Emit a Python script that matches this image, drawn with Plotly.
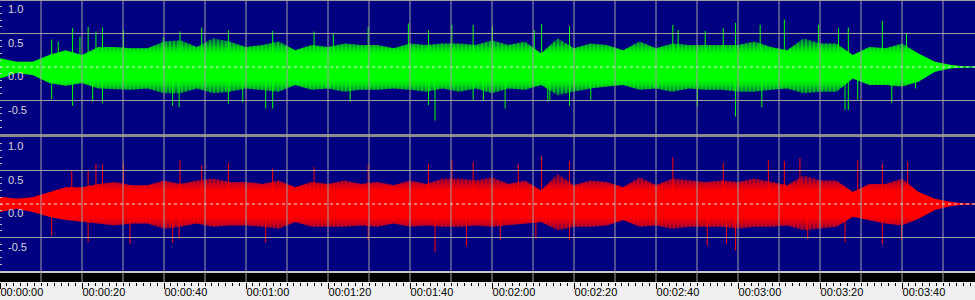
import plotly.graph_objects as go

# ---------------- data ----------------
BODY_T = [0, 4, 8, 12, 16, 20, 24, 28, 32, 36, 40, 44, 48, 52, 56, 60, 64, 68, 72, 76,
          80, 84, 88, 92, 96, 100, 104, 108, 112, 116, 120, 124, 128, 132, 136, 140, 144,
          148, 152, 156, 160, 164, 168, 172, 176, 180, 184, 188, 192, 196, 200, 204, 208,
          212, 216, 220, 224, 228, 232, 236, 237.8]

LEFT_UP = [0.13, 0.08, 0.08, 0.18, 0.25, 0.18, 0.30, 0.30, 0.28, 0.28, 0.38, 0.40, 0.30, 0.43,
           0.38, 0.30, 0.33, 0.38, 0.25, 0.33, 0.30, 0.35, 0.33, 0.33, 0.28, 0.35, 0.33, 0.35,
           0.35, 0.33, 0.40, 0.33, 0.38, 0.20, 0.43, 0.28, 0.35, 0.33, 0.25, 0.38, 0.28, 0.35,
           0.33, 0.33, 0.33, 0.33, 0.38, 0.30, 0.25, 0.43, 0.35, 0.35, 0.18, 0.30, 0.28, 0.35,
           0.20, 0.08, 0.03, 0.005, 0.005]
LEFT_LO = [-0.17, -0.09, -0.12, -0.24, -0.28, -0.24, -0.32, -0.33, -0.34, -0.32, -0.39, -0.39,
           -0.32, -0.39, -0.37, -0.32, -0.34, -0.37, -0.27, -0.34, -0.32, -0.37, -0.34, -0.34,
           -0.32, -0.34, -0.37, -0.32, -0.37, -0.32, -0.39, -0.32, -0.34, -0.27, -0.42, -0.37,
           -0.32, -0.29, -0.27, -0.34, -0.32, -0.37, -0.32, -0.34, -0.34, -0.37, -0.37, -0.34,
           -0.32, -0.39, -0.37, -0.37, -0.17, -0.27, -0.27, -0.29, -0.22, -0.07, -0.02, -0.005,
           -0.005]

RIGHT_UP = [0.11, 0.08, 0.10, 0.18, 0.25, 0.25, 0.30, 0.33, 0.28, 0.28, 0.35, 0.30, 0.35, 0.38,
            0.33, 0.33, 0.30, 0.35, 0.25, 0.33, 0.30, 0.35, 0.30, 0.33, 0.28, 0.35, 0.30, 0.38,
            0.38, 0.35, 0.40, 0.30, 0.35, 0.20, 0.45, 0.28, 0.35, 0.33, 0.25, 0.40, 0.28, 0.38,
            0.35, 0.33, 0.35, 0.33, 0.38, 0.33, 0.28, 0.43, 0.35, 0.35, 0.18, 0.30, 0.30, 0.38,
            0.18, 0.08, 0.03, 0.005, 0.005]
RIGHT_LO = [-0.12, -0.07, -0.12, -0.19, -0.24, -0.27, -0.29, -0.32, -0.29, -0.29, -0.37, -0.34,
            -0.29, -0.34, -0.32, -0.32, -0.34, -0.37, -0.27, -0.34, -0.34, -0.34, -0.32, -0.34,
            -0.29, -0.34, -0.32, -0.34, -0.34, -0.32, -0.34, -0.32, -0.29, -0.27, -0.39, -0.34,
            -0.34, -0.32, -0.24, -0.34, -0.32, -0.37, -0.34, -0.34, -0.34, -0.37, -0.34, -0.34,
            -0.32, -0.39, -0.37, -0.34, -0.19, -0.24, -0.29, -0.32, -0.22, -0.09, -0.03, -0.005,
            -0.005]

# isolated peaks (time in s, amplitude)
LEFT_PEAK_T = [12.6, 14.2, 17.7, 19.5, 21.5, 23.4, 25.0, 30.1, 39.8, 43.9, 49.2, 55.7, 66.5,
               76.6, 81.3, 89.8, 99.6, 104.5, 110.2, 115.4, 120.1, 130.3, 132.1, 138.9, 164.1,
               165.4, 172.0, 176.4, 179.4, 185.4, 191.3, 199.6, 204.5, 206.9, 215.2, 221.1,
               12.6, 17.7, 22.6, 25.0, 42.1, 43.7, 55.7, 59.2, 64.8, 66.5, 85.4, 104.5, 106.1,
               115.4, 117.9, 123.2, 133.6, 134.1, 138.9, 144.1, 170.1, 179.4, 185.8, 206.1,
               206.9, 209.2, 217.5, 223.3]
LEFT_PEAK_A = [0.41, 0.38, 0.58, 0.45, 0.60, 0.53, 0.59, 0.55, 0.45, 0.53, 0.59, 0.55, 0.54,
               0.53, 0.50, 0.60, 0.65, 0.55, 0.63, 0.63, 0.61, 0.55, 0.64, 0.61, 0.63, 0.55,
               0.54, 0.58, 0.66, 0.63, 0.71, 0.63, 0.58, 0.59, 0.69, 0.50,
               -0.48, -0.58, -0.52, -0.54, -0.58, -0.60, -0.55, -0.53, -0.62, -0.62, -0.52,
               -0.57, -0.80, -0.49, -0.50, -0.62, -0.52, -0.49, -0.58, -0.49, -0.59, -0.74,
               -0.60, -0.64, -0.64, -0.49, -0.54, -0.32]

RIGHT_PEAK_T = [17.5, 21.5, 23.4, 25.0, 30.1, 43.9, 49.2, 55.7, 66.5, 76.6, 89.8, 104.5, 110.2,
                115.4, 126.4, 132.1, 138.9, 164.1, 176.4, 187.4, 191.3, 195.1, 209.2, 215.2,
                221.4,
                12.6, 21.5, 31.7, 42.1, 43.7, 64.8, 89.8, 106.1, 113.8, 122.0, 130.7, 138.9,
                172.5, 177.2, 179.4, 197.0, 206.1, 215.2, 219.9]
RIGHT_PEAK_A = [0.50, 0.50, 0.60, 0.59, 0.61, 0.65, 0.58, 0.61, 0.53, 0.55, 0.58, 0.60, 0.65,
                0.63, 0.59, 0.71, 0.64, 0.70, 0.61, 0.65, 0.64, 0.69, 0.65, 0.60, 0.63,
                -0.47, -0.57, -0.60, -0.58, -0.52, -0.58, -0.55, -0.72, -0.63, -0.54, -0.52,
                -0.54, -0.62, -0.59, -0.69, -0.52, -0.57, -0.60, -0.53]

TAIL_T = [226, 237.8]   # near-silent end of the track

TICK_SEC = [0, 20, 40, 60, 80, 100, 120, 140, 160, 180, 200, 220]
TICK_LABELS = ["00:00:00", "00:00:20", "00:00:40", "00:01:00", "00:01:20", "00:01:40",
               "00:02:00", "00:02:20", "00:02:40", "00:03:00", "00:03:20", "00:03:40"]
GRID_SEC = [10, 20, 30, 40, 50, 60, 70, 80, 90, 100, 110, 120, 130, 140, 150, 160, 170,
            180, 190, 200, 210, 220, 230]
AMP_LABELS = ["1.0", "0.5", "0.0", "-0.5"]
AMP_LABEL_VALS = [1.0, 0.5, 0.0, -0.5]
AMP_GRID = [0.5, -0.5]
T_END = 237.8

# ---------------- styling ----------------
NAVY = "#000080"
GRIDC = "#a0a0a0"
FONT = "Liberation Sans"
H = 300.0


def py(px):  # pixel row -> paper fraction
    return 1 - px / H


TOP_DOM = [py(134), py(0)]
BOT_DOM = [py(271), py(137)]
RULER_DOM = [py(282), py(273)]

fig = go.Figure()


def rgba(rgb, a):
    return "rgba(%d,%d,%d,%s)" % (rgb[0], rgb[1], rgb[2], a)


def add_channel(up, lo, pk_t, pk_a, rgb, xa, ya):
    color = rgba(rgb, 1)
    xs = list(BODY_T) + list(reversed(BODY_T))
    ys = list(up) + list(reversed(lo))
    # sparse outer fringe of the waveform: vertical hatching
    fig.add_trace(go.Scatter(x=xs, y=ys, mode="lines", fill="toself",
                             fillcolor="rgba(0,0,0,0)",
                             fillpattern=dict(shape="|", fgcolor=color,
                                              bgcolor="rgba(0,0,0,0)", size=4, solidity=0.55),
                             line=dict(width=0), xaxis=xa, yaxis=ya,
                             hoverinfo="skip", showlegend=False))
    # dense core: solid in the middle, fading to the fringe
    fig.add_trace(go.Scatter(x=xs, y=ys, mode="lines", fill="toself",
                             fillgradient=dict(type="vertical", start=-0.46, stop=0.46,
                                               colorscale=[[0.0, rgba(rgb, 0)],
                                                           [0.22, rgba(rgb, 0.85)],
                                                           [0.3, rgba(rgb, 1)],
                                                           [0.7, rgba(rgb, 1)],
                                                           [0.78, rgba(rgb, 0.85)],
                                                           [1.0, rgba(rgb, 0)]]),
                             line=dict(width=0), xaxis=xa, yaxis=ya,
                             hoverinfo="skip", showlegend=False))
    sx, sy = [], []
    for t, a in zip(pk_t, pk_a):
        sx += [t, t, None]
        sy += [0, a, None]
    fig.add_trace(go.Scatter(x=sx, y=sy, mode="lines", line=dict(color=color, width=1),
                             xaxis=xa, yaxis=ya, hoverinfo="skip", showlegend=False))
    fig.add_trace(go.Scatter(x=TAIL_T, y=[0, 0], mode="lines", line=dict(color=color, width=1),
                             xaxis=xa, yaxis=ya, hoverinfo="skip", showlegend=False))


add_channel(LEFT_UP, LEFT_LO, LEFT_PEAK_T, LEFT_PEAK_A, (0, 255, 0), "x", "y")
add_channel(RIGHT_UP, RIGHT_LO, RIGHT_PEAK_T, RIGHT_PEAK_A, (255, 0, 0), "x2", "y2")
# empty trace for the ruler axis
fig.add_trace(go.Scatter(x=[0, T_END], y=[0, 0], mode="lines", line=dict(width=0),
                         xaxis="x3", yaxis="y3", hoverinfo="skip", showlegend=False))

shapes = []
for dom in (TOP_DOM, BOT_DOM):
    shapes.append(dict(type="rect", xref="paper", yref="paper", x0=0, x1=1, y0=dom[0], y1=dom[1],
                       fillcolor=NAVY, line=dict(width=0), layer="below"))
shapes.append(dict(type="rect", xref="paper", yref="paper", x0=0, x1=1, y0=py(137), y1=py(134),
                   fillcolor="#8c8c8c", line=dict(width=0), layer="above"))
shapes.append(dict(type="rect", xref="paper", yref="paper", x0=0, x1=1, y0=py(1), y1=py(0),
                   fillcolor="#a0a0a0", line=dict(width=0), layer="above"))
shapes.append(dict(type="rect", xref="paper", yref="paper", x0=0, x1=1, y0=RULER_DOM[0],
                   y1=RULER_DOM[1], fillcolor="#000000", line=dict(width=0), layer="above"))
shapes.append(dict(type="rect", xref="paper", yref="paper", x0=0, x1=1, y0=py(273), y1=py(271),
                   fillcolor="#c8c8c8", line=dict(width=0), layer="above"))
for g in GRID_SEC:
    shapes.append(dict(type="line", xref="x", yref="paper", x0=g, x1=g, y0=RULER_DOM[0], y1=1,
                       line=dict(color=GRIDC, width=1), layer="above"))
for xa, ya in (("x", "y"), ("x2", "y2")):
    for a in AMP_GRID:
        shapes.append(dict(type="line", xref=xa, yref=ya, x0=0, x1=T_END, y0=a, y1=a,
                           line=dict(color=GRIDC, width=1), layer="above"))
    shapes.append(dict(type="line", xref=xa, yref=ya, x0=0, x1=T_END, y0=0, y1=0,
                       line=dict(color="#e8e8e8", width=1, dash="3px,3px"), layer="above"))

annotations = []
for ya in ("y", "y2"):
    for lab, v in zip(AMP_LABELS, AMP_LABEL_VALS):
        annotations.append(dict(text=lab, xref="paper", yref=ya, x=0.006, y=v, xanchor="left",
                                yanchor="top", yshift=-1, showarrow=False,
                                font=dict(family=FONT, size=11, color="#d8d8d8")))

panel_x = dict(range=[0, T_END], showgrid=False, zeroline=False, showticklabels=False,
               ticks="", showline=False, fixedrange=True)
panel_y = dict(range=[-1, 1], showgrid=False, zeroline=False, showticklabels=False,
               ticks="inside", ticklen=2, tickcolor="#c0c0c0", tickwidth=1,
               tickvals=[-0.9, -0.8, -0.7, -0.6, -0.5, -0.4, -0.3, -0.2, -0.1, 0.0, 0.1, 0.2,
                         0.3, 0.4, 0.5, 0.6, 0.7, 0.8, 0.9],
               showline=False, fixedrange=True)

fig.update_layout(
    width=975, height=300,
    margin=dict(l=0, r=0, t=0, b=0),
    paper_bgcolor="#f0f0f0", plot_bgcolor="rgba(0,0,0,0)",
    showlegend=False,
    xaxis=dict(domain=[0, 1], anchor="y", **panel_x),
    yaxis=dict(domain=TOP_DOM, anchor="x", **panel_y),
    xaxis2=dict(domain=[0, 1], anchor="y2", **panel_x),
    yaxis2=dict(domain=BOT_DOM, anchor="x2", **panel_y),
    xaxis3=dict(domain=[0, 1], anchor="y3", range=[0, T_END], showgrid=False, zeroline=False,
                tickvals=TICK_SEC, ticktext=TICK_LABELS, ticks="outside", ticklen=6,
                tickcolor="#000000", tickwidth=1, ticklabelposition="outside right",
                tickfont=dict(family=FONT, size=11, color="#000000"),
                minor=dict(ticks="outside", ticklen=3, tickcolor="#000000", tickwidth=1,
                           tick0=0, dtick=10 / 6),
                showline=False, fixedrange=True),
    yaxis3=dict(domain=RULER_DOM, anchor="x3", range=[-1, 1], visible=False, fixedrange=True),
    shapes=shapes,
    annotations=annotations,
)

fig.write_html("out.html")
